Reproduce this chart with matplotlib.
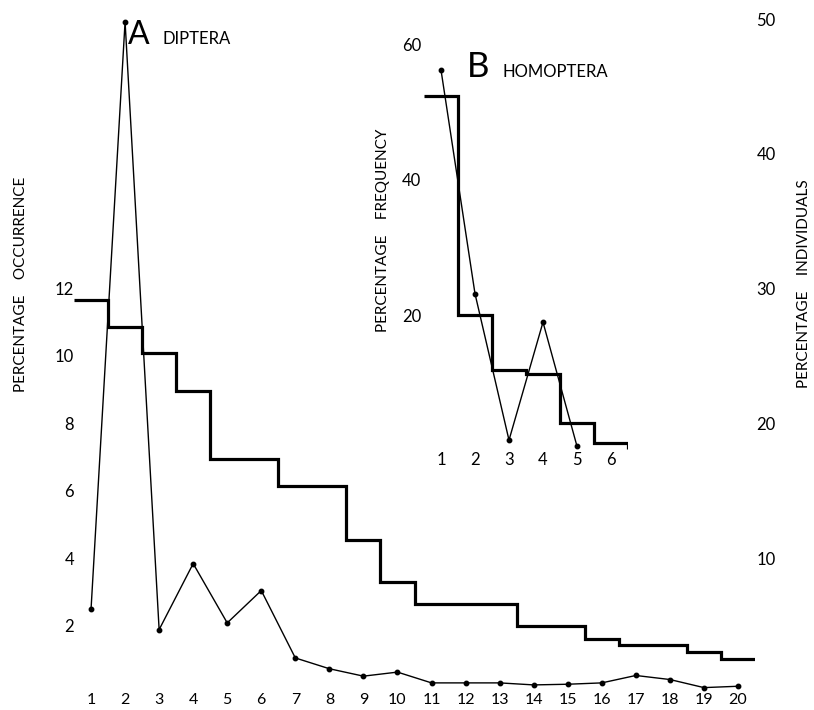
import numpy as np
import matplotlib
matplotlib.use('Agg')
import matplotlib.pyplot as plt

plt.rcParams['font.family'] = ['Lato', 'DejaVu Sans']

# ---------------- data ----------------
diptera_rank = list(range(1, 21))
diptera_occurrence = [11.65, 10.85, 10.1, 8.95, 6.95, 6.95, 6.15, 6.15, 4.55, 3.3,
                      2.65, 2.65, 2.65, 2.0, 2.0, 1.6, 1.42, 1.42, 1.22, 1.0]
diptera_individuals = [6.2, 49.8, 4.7, 9.6, 5.2, 7.6, 2.6, 1.8, 1.25, 1.55,
                       0.75, 0.75, 0.75, 0.6, 0.65, 0.75, 1.3, 1.0, 0.4, 0.5]

homoptera_rank = [1, 2, 3, 4, 5, 6]
homoptera_frequency = [52.3, 20.1, 11.9, 11.4, 4.1, 1.2]
homoptera_frequency_end = 0.3
homoptera_individual_rank = [1, 2, 3, 4, 5]
homoptera_individuals = [56.2, 23.2, 1.6, 19.0, 0.7]

left_ticks = [2, 4, 6, 8, 10, 12]
right_ticks = [10, 20, 30, 40, 50]
inset_yticks = [20, 40, 60]

# ---------------- layout ----------------
W, H = 814, 710
fig = plt.figure(figsize=(W / 100, H / 100), dpi=100)
fig.patch.set_facecolor('white')


def px(l, t, r, b):
    return [l / W, 1 - b / H, (r - l) / W, (b - t) / H]


def clean(a):
    for s in a.spines.values():
        s.set_visible(False)
    a.patch.set_visible(False)


TXT = 12
LW_STEP = 2.3
LW_LINE = 1.0

# main axes
ax = fig.add_axes(px(74, 2.15, 755, 693))
ax.set_xlim(0.5, 20.5)
ax.set_ylim(0, 20.5)
clean(ax)
ax.set_xticks(diptera_rank)
ax.set_xticklabels([str(r) for r in diptera_rank], fontsize=11.5)
ax.set_yticks(left_ticks)
ax.set_yticklabels([str(t) for t in left_ticks], fontsize=TXT)
ax.tick_params(axis='both', length=0)
ax.tick_params(axis='x', pad=0)
ax.tick_params(axis='y', pad=0)

edges = np.arange(0.5, len(diptera_occurrence) + 1, 1.0)
ax.stairs(diptera_occurrence, edges, baseline=None, color='black',
          lw=LW_STEP, joinstyle='miter')

ax2 = ax.twinx()
ax2.set_ylim(0, 20.5 * 2.5)
clean(ax2)
ax2.set_yticks(right_ticks)
ax2.set_yticklabels([str(t) for t in right_ticks], fontsize=TXT)
ax2.tick_params(axis='y', length=0, pad=1)
ax2.plot(diptera_rank, diptera_individuals, color='black', lw=LW_LINE,
         marker='o', ms=3.2)

# inset axes
axi = fig.add_axes(px(424, 451 - 62 * 6.78, 628, 451))
axi.set_xlim(0.5, 6.5)
axi.set_ylim(0, 62)
clean(axi)
axi.set_xticks(homoptera_rank)
axi.set_xticklabels([str(r) for r in homoptera_rank], fontsize=TXT)
axi.set_yticks(inset_yticks)
axi.set_yticklabels([str(t) for t in inset_yticks], fontsize=TXT)
axi.tick_params(axis='both', length=0)
axi.tick_params(axis='x', pad=1)
axi.tick_params(axis='y', pad=2)

iedges = np.arange(0.5, len(homoptera_frequency) + 1, 1.0)
axi.stairs(homoptera_frequency, iedges, baseline=None, color='black',
           lw=LW_STEP, joinstyle='miter')
axi.plot([iedges[-1], iedges[-1]], [homoptera_frequency[-1], homoptera_frequency_end],
         color='black', lw=LW_STEP, solid_capstyle='butt')
axi.plot(homoptera_individual_rank, homoptera_individuals, color='black',
         lw=LW_LINE, marker='o', ms=3.2)

# titles and labels
fig.text(128 / W, 1 - 44 / H, 'A', fontsize=23, va='baseline', ha='left')
fig.text(162 / W, 1 - 44 / H, 'DIPTERA', fontsize=12, va='baseline', ha='left')
fig.text(467 / W, 1 - 77 / H, 'B', fontsize=25, va='baseline', ha='left')
fig.text(502 / W, 1 - 77 / H, 'HOMOPTERA', fontsize=12, va='baseline', ha='left')

fig.text(21 / W, 1 - 284 / H, 'PERCENTAGE    OCCURRENCE', rotation=90,
         va='center', ha='center', fontsize=11)
fig.text(804 / W, 1 - 284 / H, 'PERCENTAGE    INDIVIDUALS', rotation=90,
         va='center', ha='center', fontsize=11)
fig.text(383 / W, 1 - 230 / H, 'PERCENTAGE    FREQUENCY', rotation=90,
         va='center', ha='center', fontsize=11)

fig.savefig('out.png', dpi=100, facecolor='white')
